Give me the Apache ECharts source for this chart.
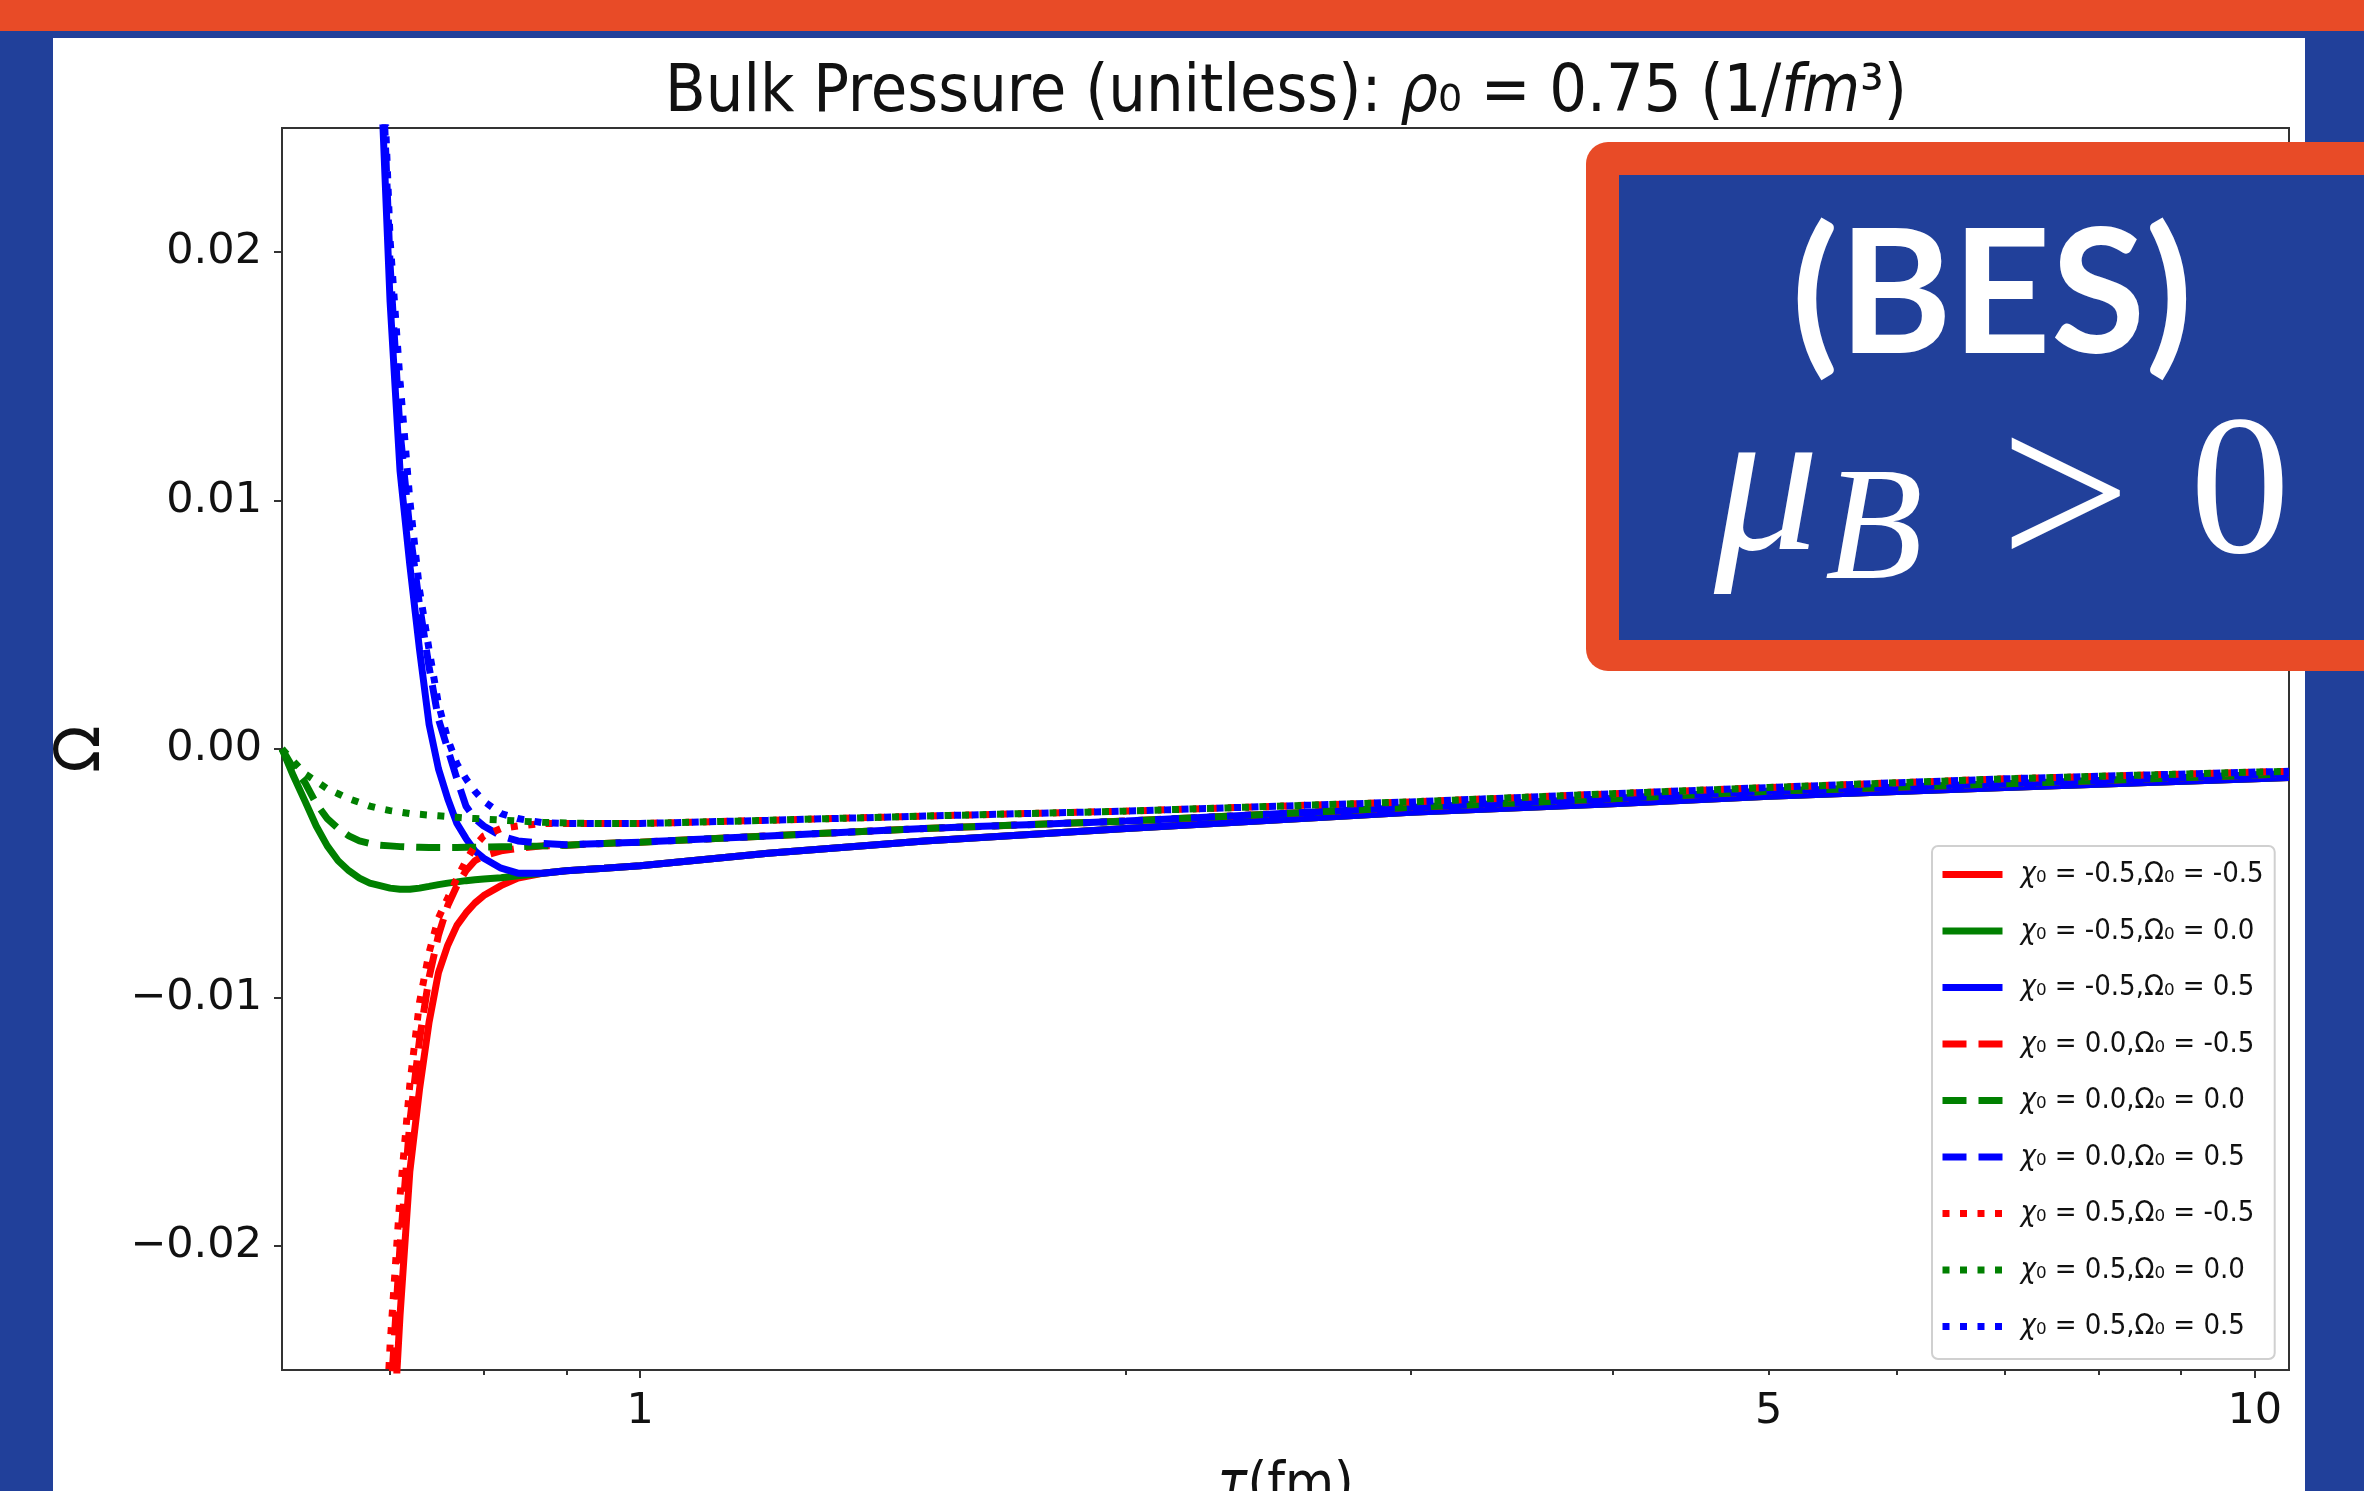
<!DOCTYPE html>
<html>
<head>
<meta charset="utf-8">
<title>Bulk Pressure</title>
<script src="https://cdn.jsdelivr.net/npm/echarts@6.0.0/dist/echarts.min.js"></script>
<style>
  html, body { margin: 0; padding: 0; background: #21409a; }
  #chart { width: 2364px; height: 1491px; }
</style>
</head>
<body>
<div id="chart"></div>
<script>
// proper time grid (fm), shared by all nine curves
const tau = [0.60, 0.61, 0.62, 0.63, 0.64, 0.65, 0.66, 0.67, 0.68, 0.69,
             0.70, 0.71, 0.72, 0.73, 0.74, 0.75, 0.76, 0.77, 0.78, 0.79,
             0.80, 0.82, 0.84, 0.87, 0.90, 0.95, 1.0, 1.2, 1.5, 2.0,
             3.0, 4.0, 5.0, 7.0, 10.0, 10.5];

// chi0 = -0.5 (solid)
const redSolid = [null, null, null, null, null, null, null, null, null, null,
  -0.030, -0.0228, -0.0170, -0.0137, -0.0110, -0.0090, -0.0079, -0.0071, -0.0066, -0.0062,
  -0.0059, -0.0055, -0.0052, -0.0050, -0.0049, -0.0048, -0.0047, -0.0042, -0.0037, -0.0032,
  -0.00255, -0.0022, -0.0019, -0.00155, -0.0012, -0.00115];
const greenSolid = [0, -0.0011, -0.0021, -0.0031, -0.0039, -0.0045, -0.0049, -0.0052, -0.0054, -0.0055,
  -0.0056, -0.00565, -0.00565, -0.0056, -0.00553, -0.00546, -0.0054, -0.00535, -0.0053, -0.00526,
  -0.00523, -0.00518, -0.0051, -0.0050, -0.0049, -0.0048, -0.0047, -0.0042, -0.0037, -0.0032,
  -0.00255, -0.0022, -0.0019, -0.00155, -0.0012, -0.00115];
const blueSolid = [null, null, null, null, null, null, null, null, null, 0.028,
  0.0180, 0.0112, 0.0074, 0.0040, 0.0010, -0.0008, -0.0020, -0.0030, -0.0036, -0.0041,
  -0.0044, -0.0048, -0.0050, -0.0050, -0.0049, -0.0048, -0.0047, -0.0042, -0.0037, -0.0032,
  -0.00255, -0.0022, -0.0019, -0.00155, -0.0012, -0.00115];

// chi0 = 0.0 (dashed)
const redDashed = [null, null, null, null, null, null, null, null, null, null,
  -0.0265, -0.0200, -0.0150, -0.0117, -0.0092, -0.0075, -0.0063, -0.0055, -0.0049, -0.0045,
  -0.0043, -0.0041, -0.0040, -0.0039, -0.00387, -0.0038, -0.00375, -0.0035, -0.0032, -0.0029,
  -0.00235, -0.0020, -0.0017, -0.0014, -0.00105, -0.0010];
const greenDashed = [0, -0.0008, -0.00135, -0.0022, -0.0028, -0.0032, -0.0035, -0.0037, -0.0038, -0.00387,
  -0.0039, -0.00393, -0.00395, -0.00396, -0.00397, -0.00397, -0.00397, -0.00397, -0.00396, -0.00396,
  -0.00395, -0.00394, -0.00393, -0.0039, -0.00387, -0.0038, -0.00375, -0.0035, -0.0032, -0.0029,
  -0.00235, -0.0020, -0.0017, -0.0014, -0.00105, -0.0010];
const blueDashed = [null, null, null, null, null, null, null, null, null, 0.030,
  0.0195, 0.0128, 0.0088, 0.0058, 0.0033, 0.0012, 0.0000, -0.0012, -0.0023, -0.0028,
  -0.0031, -0.0035, -0.0037, -0.0038, -0.00385, -0.0038, -0.00375, -0.0035, -0.0032, -0.0029,
  -0.00235, -0.0020, -0.0017, -0.0014, -0.00105, -0.0010];

// chi0 = 0.5 (dotted)
const redDotted = [null, null, null, null, null, null, null, null, null, -0.032,
  -0.0240, -0.0180, -0.0135, -0.0102, -0.0082, -0.0068, -0.0060, -0.0052, -0.0045, -0.0039,
  -0.0035, -0.0032, -0.0031, -0.0030, -0.0030, -0.0030, -0.0030, -0.00287, -0.0027, -0.0025,
  -0.00213, -0.0018, -0.00155, -0.0012, -0.00093, -0.0009];
const greenDotted = [0, -0.0005, -0.0010, -0.0013, -0.0016, -0.0018, -0.0020, -0.00215, -0.0023, -0.0024,
  -0.00248, -0.00254, -0.0026, -0.00263, -0.00266, -0.00269, -0.00272, -0.00275, -0.00278, -0.0028,
  -0.00282, -0.00286, -0.0029, -0.00295, -0.00298, -0.0030, -0.0030, -0.00287, -0.0027, -0.0025,
  -0.00213, -0.0018, -0.00155, -0.0012, -0.00093, -0.0009];
const blueDotted = [null, null, null, null, null, null, null, null, null, 0.031,
  0.0205, 0.0148, 0.0100, 0.0064, 0.0040, 0.0018, 0.0004, -0.0006, -0.0012, -0.0017,
  -0.0021, -0.0026, -0.0028, -0.00297, -0.0030, -0.0030, -0.0030, -0.00287, -0.0027, -0.0025,
  -0.00213, -0.0018, -0.00155, -0.0012, -0.00093, -0.0009];

const legendNames = [
  'χ₀ = -0.5,Ω₀ = -0.5', 'χ₀ = -0.5,Ω₀ = 0.0', 'χ₀ = -0.5,Ω₀ = 0.5',
  'χ₀ = 0.0,Ω₀ = -0.5', 'χ₀ = 0.0,Ω₀ = 0.0', 'χ₀ = 0.0,Ω₀ = 0.5',
  'χ₀ = 0.5,Ω₀ = -0.5', 'χ₀ = 0.5,Ω₀ = 0.0', 'χ₀ = 0.5,Ω₀ = 0.5'
];

const xLabelTicks = [1, 5, 10];
const xMajorTicks = [1, 10];
const xMinorTicks = [0.7, 0.8, 0.9, 2, 3, 4, 5, 6, 7, 8, 9];
const yTicks = [-0.02, -0.01, 0, 0.01, 0.02];

const RED = '#ff0000', GREEN = '#008000', BLUE = '#0000ff';
const ORANGE = '#e84b27', NAVY = '#21409a';
const DASH = [24, 12], DOT = [7, 10.5];
const NARROW = "'DejaVu Sans Condensed', 'DejaVu Sans'";
const SANS = "'DejaVu Sans'";
const SERIF = "'Liberation Serif'";
const INK = '#111';

const chart = echarts.init(document.getElementById('chart'));

function toPairs(vals) {
    return tau.map((t, i) => [Math.log10(t), vals[i]]);
}

function fmtY(v) {
    const s = Math.abs(v).toFixed(2);
    return v < -1e-9 ? '\u2212' + s : s;
}

const curves = [
    { data: redSolid, color: RED, dash: 'solid' },
    { data: greenSolid, color: GREEN, dash: 'solid' },
    { data: blueSolid, color: BLUE, dash: 'solid' },
    { data: redDashed, color: RED, dash: DASH },
    { data: greenDashed, color: GREEN, dash: DASH },
    { data: blueDashed, color: BLUE, dash: DASH },
    { data: redDotted, color: RED, dash: DOT },
    { data: greenDotted, color: GREEN, dash: DOT },
    { data: blueDotted, color: BLUE, dash: DOT }
];

const tickLine = { color: '#333', width: 2 };
const xMin = Math.log10(0.6), xMax = Math.log10(10.5);

function badgeText(x, y, text, size, family, extra) {
    return {
        type: 'text', z: 102, silent: true, x: x, y: y,
        style: Object.assign({
            text: text, fill: '#fff', fontFamily: family, fontSize: size,
            align: 'left', verticalAlign: 'middle'
        }, extra || {})
    };
}

const option = {
    backgroundColor: NAVY,
    animation: false,
    textStyle: { fontFamily: SANS },
    title: {
        text: 'Bulk Pressure (unitless): {i|ρ}₀ = 0.75 (1/{i|fm}³)',
        left: 1286,
        textAlign: 'center',
        top: 61,
        padding: 0,
        textStyle: {
            fontFamily: NARROW, fontSize: 66, fontWeight: 'normal', color: INK,
            rich: { i: { fontFamily: NARROW, fontSize: 66, fontStyle: 'italic', color: INK } }
        }
    },
    grid: {
        left: 282, right: 75, top: 128, bottom: 121,
        outerBoundsMode: 'none',
        show: true, borderColor: '#333', borderWidth: 2, backgroundColor: 'transparent'
    },
    legend: {
        orient: 'vertical',
        left: 1932, top: 846,
        padding: [14, 11, 18, 7],
        itemGap: 27.5, itemWidth: 60, itemHeight: 26,
        backgroundColor: '#fff', borderColor: '#d0d0d0', borderWidth: 2, borderRadius: 6,
        selectedMode: false,
        data: legendNames,
        lineStyle: { width: 7 },
        itemStyle: { opacity: 0, borderWidth: 0 },
        formatter: n => '{i|χ}' + n.slice(1),
        textStyle: {
            fontFamily: NARROW, fontSize: 29, lineHeight: 29, color: INK, padding: [0, 0, 0, 13],
            rich: { i: { fontFamily: NARROW, fontSize: 29, lineHeight: 29, fontStyle: 'italic', color: INK } }
        }
    },
    xAxis: [{
        type: 'value', min: xMin, max: xMax, position: 'bottom',
        name: '{i|τ}(fm)', nameLocation: 'middle', nameGap: 88,
        nameTextStyle: {
            fontFamily: NARROW, fontSize: 56, color: INK,
            rich: { i: { fontFamily: NARROW, fontSize: 56, fontStyle: 'italic', color: INK } }
        },
        axisLine: { show: false, onZero: false },
        axisTick: { show: true, length: 8, customValues: xMajorTicks.map(v => Math.log10(v)), lineStyle: tickLine },
        axisLabel: {
            customValues: xLabelTicks.map(v => Math.log10(v)),
            formatter: v => String(Math.round(Math.pow(10, v))),
            fontFamily: SANS, fontSize: 43, color: INK, margin: 20
        },
        splitLine: { show: false }
    }, {
        type: 'value', min: xMin, max: xMax, position: 'bottom', offset: 0,
        axisLine: { show: false, onZero: false },
        axisTick: { show: true, length: 5, customValues: xMinorTicks.map(v => Math.log10(v)), lineStyle: tickLine },
        axisLabel: { show: false },
        splitLine: { show: false }
    }],
    yAxis: {
        type: 'value', min: -0.025, max: 0.025,
        name: 'Ω', nameLocation: 'middle', nameGap: 168, nameRotate: 90,
        nameTextStyle: { fontFamily: SANS, fontSize: 62, color: INK },
        axisLine: { show: false, onZero: false },
        axisTick: { show: true, length: 8, customValues: yTicks, lineStyle: tickLine },
        axisLabel: { customValues: yTicks, formatter: fmtY, fontFamily: SANS, fontSize: 43, color: INK, margin: 20 },
        splitLine: { show: false }
    },
    graphic: [
        { type: 'rect', z: -100, silent: true, shape: { x: 0, y: 0, width: 2364, height: 31 }, style: { fill: ORANGE } },
        { type: 'rect', z: -100, silent: true, shape: { x: 53, y: 38, width: 2252, height: 1460 }, style: { fill: '#fff' } },
        { type: 'rect', z: 100, silent: true, shape: { x: 1586, y: 142, width: 800, height: 529, r: [22, 0, 0, 22] }, style: { fill: ORANGE } },
        { type: 'rect', z: 101, silent: true, shape: { x: 1619, y: 175, width: 760, height: 465 }, style: { fill: NAVY } },
        badgeText(1992, 298, '(BES)', 172, 'Lato', { fontWeight: 'bold', align: 'center' }),
        badgeText(1714, 494, 'μ', 210, SERIF, { fontStyle: 'italic' }),
        badgeText(1825, 536, 'B', 160, SERIF, { fontStyle: 'italic' }),
        badgeText(2000, 509, '>', 232, SERIF),
        badgeText(2190, 499, '0', 200, SERIF)
    ],
    series: curves.map((c, i) => ({
        name: legendNames[i],
        type: 'line',
        xAxisIndex: 0,
        data: toPairs(c.data),
        showSymbol: false,
        symbol: 'none',
        clip: true,
        silent: true,
        lineStyle: { color: c.color, width: 7, type: c.dash, cap: 'butt' },
        itemStyle: { color: c.color }
    }))
};

chart.setOption(option);
</script>
</body>
</html>
